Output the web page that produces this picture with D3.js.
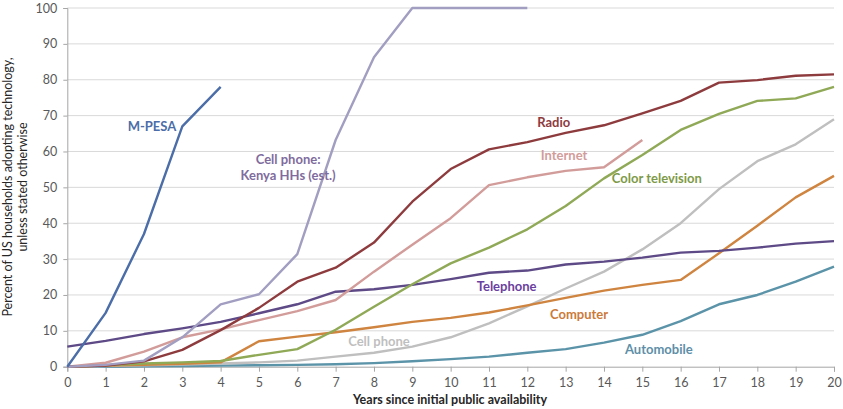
<!DOCTYPE html>
<html><head><meta charset="utf-8">
<script src="https://cdn.jsdelivr.net/npm/d3@7"></script>
<style>body{margin:0;background:#fff}svg{display:block}</style>
</head><body><svg id="c" width="843" height="409"></svg>
<script>
const years = d3.range(0, 21);
const yTicks = [0,10,20,30,40,50,60,70,80,90,100];

const mpesa     = [0, 15, 37, 67, 78];
const kenyaCell = [0, 0.5, 1.7, 8.2, 17.4, 20.2, 31.4, 63.2, 86.3, 100, 100, 100, 100];
const radio     = [0, 0.3, 1.5, 4.7, 10.2, 16.4, 23.7, 27.6, 34.6, 46, 55.1, 60.6, 62.6, 65.2, 67.3, 70.6, 74.1, 79.2, 79.9, 81.1, 81.5];
const internet  = [0, 1.1, 4.2, 8.2, 10.4, 13, 15.5, 18.6, 26.5, 34, 41.4, 50.6, 52.8, 54.6, 55.6, 63.2];
const colorTv   = [0, 0.4, 0.9, 1.2, 1.6, 3.3, 4.9, 10.3, 16.7, 23, 28.8, 33.2, 38.3, 44.8, 52.5, 59, 66, 70.5, 74.1, 74.8, 78];
const telephone = [5.6, 7.2, 9.1, 10.7, 12.5, 14.9, 17.4, 20.9, 21.6, 22.8, 24.4, 26.2, 26.8, 28.5, 29.3, 30.4, 31.8, 32.3, 33.2, 34.3, 35];
const computer  = [0, 0.3, 0.5, 0.8, 1.2, 7.1, 8.4, 9.6, 11, 12.5, 13.6, 15.1, 17.1, 19.2, 21.2, 22.8, 24.2, 31.6, 39.3, 47.2, 53.2];
const cellUS    = [0, 0.2, 0.4, 0.6, 0.9, 1.2, 1.7, 2.8, 3.9, 5.6, 8.2, 12.1, 16.8, 21.8, 26.5, 32.7, 40, 49.5, 57.3, 62, 69];
const auto      = [0, 0, 0.1, 0.2, 0.3, 0.4, 0.5, 0.7, 1, 1.5, 2.1, 2.8, 3.9, 4.9, 6.7, 8.9, 12.7, 17.4, 20, 23.7, 27.9];

const seriesNames  = ["Automobile","Cell phone","Computer","Telephone","Color television","Internet","Radio","Cell phone: Kenya HHs (est.)","M-PESA"];
const seriesValues = [auto, cellUS, computer, telephone, colorTv, internet, radio, kenyaCell, mpesa];
const seriesColors = ["#5B93A9","#BFBFBF","#CF8440","#5D4A86","#8FA957","#D29C9A","#8E3B3E","#A19EC1","#4B6DA8"];

const labels = [
  {lines:["M-PESA"], x:2.21, y:65.7, color:"#4B6DA8"},
  {lines:["Cell phone:","Kenya HHs (est.)"], x:5.76, y:56.4, color:"#7F6C9E"},
  {lines:["Radio"], x:12.69, y:66.8, color:"#8E3B3E"},
  {lines:["Internet"], x:12.96, y:57.6, color:"#D29C9A"},
  {lines:["Color television"], x:15.38, y:51.1, color:"#7E9A47"},
  {lines:["Telephone"], x:11.46, y:21.2, color:"#6B3FA0"},
  {lines:["Computer"], x:13.35, y:13.2, color:"#CC7A3A"},
  {lines:["Cell phone"], x:8.13, y:5.8, color:"#BFBFBF"},
  {lines:["Automobile"], x:15.43, y:3.6, color:"#5E8FA8"}
];

const svg = d3.select("#c");
const m = {l:67.3, r:843-834, t:8, b:409-366.7};
const W = 843, H = 409;
const x = d3.scaleLinear().domain([0,20]).range([m.l, W-m.r]);
const y = d3.scaleLinear().domain([0,100]).range([H-m.b, m.t]);
const font = "Lato, 'Open Sans', sans-serif";

// gridlines
svg.append("g").selectAll("line").data(yTicks.filter(d=>d>0)).join("line")
  .attr("x1", x(0)).attr("x2", x(20)).attr("y1", d=>y(d)).attr("y2", d=>y(d))
  .attr("stroke", "#D9D9D9").attr("stroke-width", 1);

// y axis
const ya = svg.append("g").attr("transform", `translate(${x(0)},0)`)
  .call(d3.axisLeft(y).tickValues(yTicks).tickSize(4).tickPadding(6));
ya.select(".domain").attr("stroke", "#A6A6A6");
ya.selectAll(".tick line").attr("stroke", "#A6A6A6");
ya.selectAll("text").attr("font-family", font).attr("font-size", 12.5).attr("fill", "#595959");

// x axis
const xa = svg.append("g").attr("transform", `translate(0,${y(0)})`)
  .call(d3.axisBottom(x).tickValues(years).tickFormat(d3.format("d")).tickSize(5).tickPadding(6));
xa.select(".domain").attr("stroke", "#A6A6A6");
xa.selectAll(".tick line").attr("stroke", "#A6A6A6");
xa.selectAll("text").attr("font-family", font).attr("font-size", 12.5).attr("fill", "#595959");

// lines
const line = d3.line().x((d,i)=>x(i)).y(d=>y(d));
svg.append("g").selectAll("path").data(seriesValues).join("path")
  .attr("d", d=>line(d)).attr("fill", "none")
  .attr("stroke", (d,i)=>seriesColors[i]).attr("stroke-width", 2.4)
  .attr("stroke-linejoin", "round");

// labels
const lg = svg.append("g");
labels.forEach(l => {
  const t = lg.append("text").attr("x", x(l.x)).attr("y", y(l.y))
    .attr("text-anchor", "middle").attr("font-family", font).attr("font-weight", "bold")
    .attr("font-size", 13).attr("fill", l.color);
  l.lines.forEach((s,i)=> t.append("tspan").attr("x", x(l.x)).attr("dy", i===0?0:16).text(s));
});

// axis titles
svg.append("text").attr("x", 450).attr("y", 404).attr("text-anchor", "middle")
  .attr("font-family", font).attr("font-weight", "bold").attr("font-size", 12.5).attr("fill", "#262626")
  .text("Years since initial public availability");
const yt = svg.append("text").attr("transform", "translate(12,187) rotate(-90)")
  .attr("text-anchor", "middle").attr("font-family", font).attr("font-size", 12.5).attr("fill", "#262626");
yt.append("tspan").attr("x", 0).attr("dy", 0).text("Percent of US households adopting technology,");
yt.append("tspan").attr("x", 0).attr("dy", 15).text("unless stated otherwise");
</script></body></html>
